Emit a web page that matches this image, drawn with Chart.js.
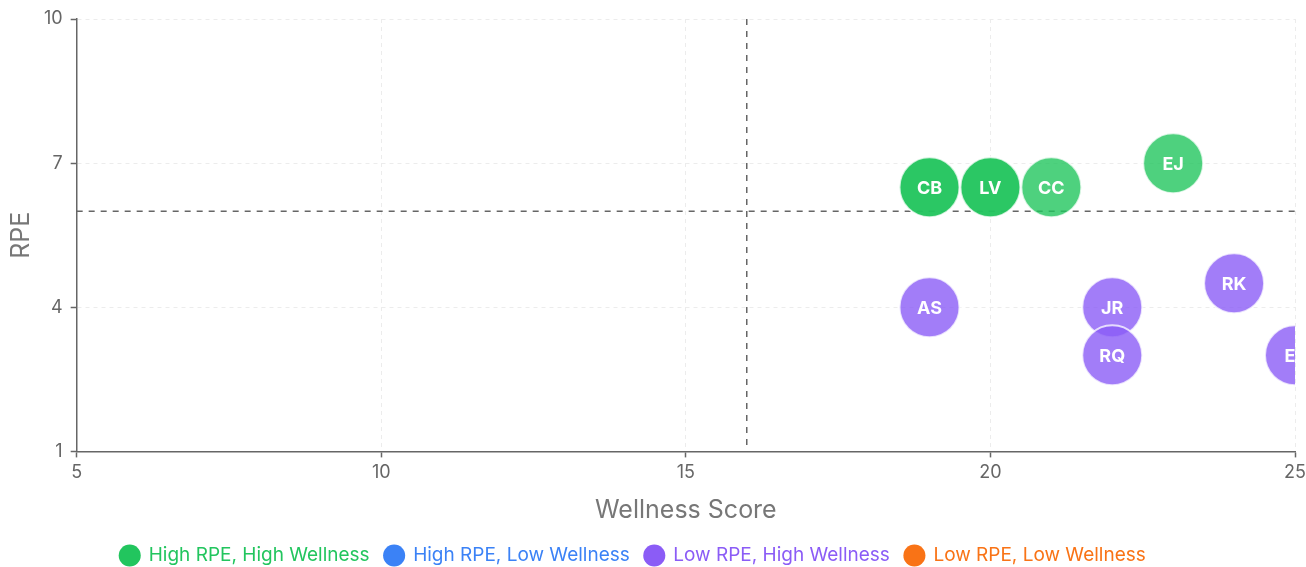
<!DOCTYPE html>
<html>
<head>
<meta charset="utf-8">
<script src="https://cdn.jsdelivr.net/npm/chart.js@4.4.1/dist/chart.umd.min.js"></script>
<style>
  html, body { margin: 0; padding: 0; background: #fff; }
  #wrap { width: 1306px; height: 567px; position: relative; }
</style>
</head>
<body>
<div id="wrap"><canvas id="c" width="1306" height="567"></canvas></div>
<script>
// ---- data ----
const seriesNames = ['High RPE, High Wellness', 'High RPE, Low Wellness', 'Low RPE, High Wellness', 'Low RPE, Low Wellness'];
const seriesColors = ['34,197,94', '59,130,246', '139,92,246', '249,115,22'];

const highHighLabels = ['CB', 'LV', 'CC', 'EJ'];
const highHighWellness = [19, 20, 21, 23];
const highHighRPE = [6.5, 6.5, 6.5, 7];

const highLowLabels = [];
const highLowWellness = [];
const highLowRPE = [];

const lowHighLabels = ['AS', 'JR', 'RQ', 'RK', 'EL'];
const lowHighWellness = [19, 22, 22, 24, 25];
const lowHighRPE = [4, 4, 3, 4.5, 3];

const lowLowLabels = [];
const lowLowWellness = [];
const lowLowRPE = [];

const xTicks = [5, 10, 15, 20, 25];
const yTicks = [1, 4, 7, 10];
const wellnessThreshold = 16;
const rpeThreshold = 6;

// style-only: per-point opacity
const highHighAlpha = [0.96, 0.96, 0.8, 0.8];
const lowHighAlpha = [0.8, 0.8, 0.8, 0.8, 0.8];

function pts(xs, ys) { return xs.map((x, i) => ({ x: x, y: ys[i] })); }

const groups = [
  { labels: highHighLabels, data: pts(highHighWellness, highHighRPE), alpha: highHighAlpha },
  { labels: highLowLabels, data: pts(highLowWellness, highLowRPE), alpha: [] },
  { labels: lowHighLabels, data: pts(lowHighWellness, lowHighRPE), alpha: lowHighAlpha },
  { labels: lowLowLabels, data: pts(lowLowWellness, lowLowRPE), alpha: [] }
];

const datasets = groups.map((g, i) => ({
  label: seriesNames[i],
  data: g.data,
  pointLabels: g.labels,
  backgroundColor: g.data.length ? g.alpha.map(a => `rgba(${seriesColors[i]},${a})`) : `rgba(${seriesColors[i]},0.8)`,
  borderColor: 'rgba(255,255,255,0.75)',
  borderWidth: 2,
  pointRadius: 30,
  pointHoverRadius: 30,
  clip: 0
}));

const FONT = 'Inter, "Noto Sans", sans-serif';

const refLines = {
  id: 'refLines',
  beforeDatasetsDraw(chart) {
    const { ctx, chartArea: a, scales: { x, y } } = chart;
    ctx.save();
    ctx.strokeStyle = '#666';
    ctx.lineWidth = 1.5;
    ctx.setLineDash([6, 6]);
    const px = x.getPixelForValue(wellnessThreshold);
    const py = y.getPixelForValue(rpeThreshold);
    ctx.beginPath();
    ctx.moveTo(px, a.top); ctx.lineTo(px, a.bottom);
    ctx.moveTo(a.left, py); ctx.lineTo(a.right, py);
    ctx.stroke();
    ctx.restore();
  }
};

const pointText = {
  id: 'pointText',
  afterDatasetsDraw(chart) {
    const { ctx, chartArea: a } = chart;
    ctx.save();
    ctx.beginPath();
    ctx.rect(a.left, a.top, a.right - a.left, a.bottom - a.top);
    ctx.clip();
    ctx.fillStyle = '#fff';
    ctx.font = 'bold 18px ' + FONT;
    ctx.textAlign = 'center';
    ctx.textBaseline = 'middle';
    chart.data.datasets.forEach((ds, di) => {
      const meta = chart.getDatasetMeta(di);
      meta.data.forEach((el, i) => {
        ctx.fillText(ds.pointLabels[i], el.x, el.y + 1);
      });
    });
    ctx.restore();
  }
};

// shift the legend block slightly left, as in the reference
const legendShift = {
  id: 'legendShift',
  afterLayout(chart) {
    if (chart.legend) { chart.legend.left -= 46; }
  }
};

new Chart(document.getElementById('c'), {
  type: 'scatter',
  data: { datasets: datasets },
  options: {
    responsive: false,
    animation: false,
    events: [],
    layout: { autoPadding: false, padding: { top: 19, right: 0, left: 6, bottom: -8 } },
    plugins: {
      tooltip: { enabled: false },
      legend: {
        position: 'bottom',
        labels: {
          usePointStyle: true,
          pointStyle: 'circle',
          boxHeight: 15.6,
          font: { family: FONT, size: 19 },
          padding: 15,
          generateLabels(chart) {
            return chart.data.datasets.map((ds, i) => ({
              text: ds.label,
              fillStyle: `rgb(${seriesColors[i]})`,
              strokeStyle: `rgb(${seriesColors[i]})`,
              fontColor: `rgb(${seriesColors[i]})`,
              lineWidth: 0,
              pointStyle: 'circle',
              hidden: false,
              datasetIndex: i
            }));
          }
        }
      }
    },
    scales: {
      x: {
        type: 'linear',
        min: 5, max: 25,
        afterBuildTicks(axis) { axis.ticks = xTicks.map(v => ({ value: v })); },
        afterFit(axis) { axis.paddingRight = 11; },
        ticks: { color: '#666', font: { family: FONT, size: 18 }, padding: 4 },
        grid: { color: '#ececec', lineWidth: 1, tickColor: '#666', tickLength: 6, tickWidth: 1.5 },
        border: { color: '#666', width: 1.5, dash: [4, 4] },
        title: { display: true, text: 'Wellness Score', color: '#777', font: { family: FONT, size: 25 }, padding: { top: 8, bottom: 6 } }
      },
      y: {
        type: 'linear',
        min: 1, max: 10,
        afterBuildTicks(axis) { axis.ticks = yTicks.map(v => ({ value: v })); },
        ticks: { color: '#666', font: { family: FONT, size: 18 }, padding: 8 },
        grid: { color: '#ececec', lineWidth: 1, tickColor: '#666', tickLength: 6, tickWidth: 1.5 },
        border: { color: '#666', width: 1.5, dash: [4, 4] },
        title: { display: true, text: 'RPE', color: '#777', font: { family: FONT, size: 25 }, padding: { top: 0, bottom: 0 } }
      }
    }
  },
  plugins: [refLines, pointText, legendShift]
});
</script>
</body>
</html>
